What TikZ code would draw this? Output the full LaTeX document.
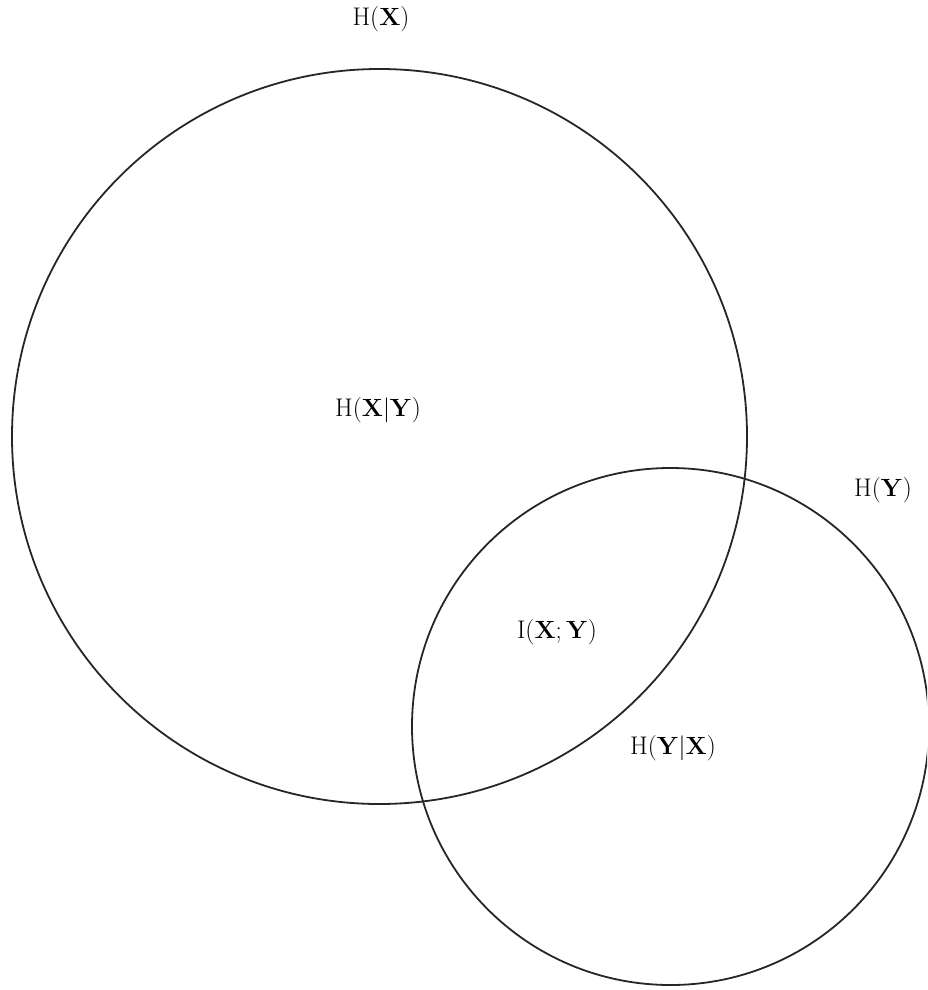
\documentclass[tikz,border=0pt]{standalone}
\usepackage{amsmath}
\begin{document}
\begin{tikzpicture}[x=1pt,y=-1pt,
  setcircle/.style={draw=black!85,line width=1.8pt},
  lbl/.style={font=\fontsize{25.5}{30}\selectfont,inner sep=0pt}]
\useasboundingbox (0,0) rectangle (927,990);
\begin{scope}
\clip (0,0) rectangle (927,990);
\draw[setcircle] (379.5,436.5) circle[radius=367.5];
\draw[setcircle] (670.5,726.5) circle[radius=258.5];
\end{scope}
\node[lbl] (hx) at (381,19) {H($\mathbf{X}$)};
\node[lbl] (hxy) at (378,410) {H($\mathbf{X}|\mathbf{Y}$)};
\node[lbl] (hy) at (883,490) {H($\mathbf{Y}$)};
\node[lbl] (ixy) at (557,632) {I($\mathbf{X};\mathbf{Y}$)};
\node[lbl] (hyx) at (673,748) {H($\mathbf{Y}|\mathbf{X}$)};
\end{tikzpicture}
\end{document}
